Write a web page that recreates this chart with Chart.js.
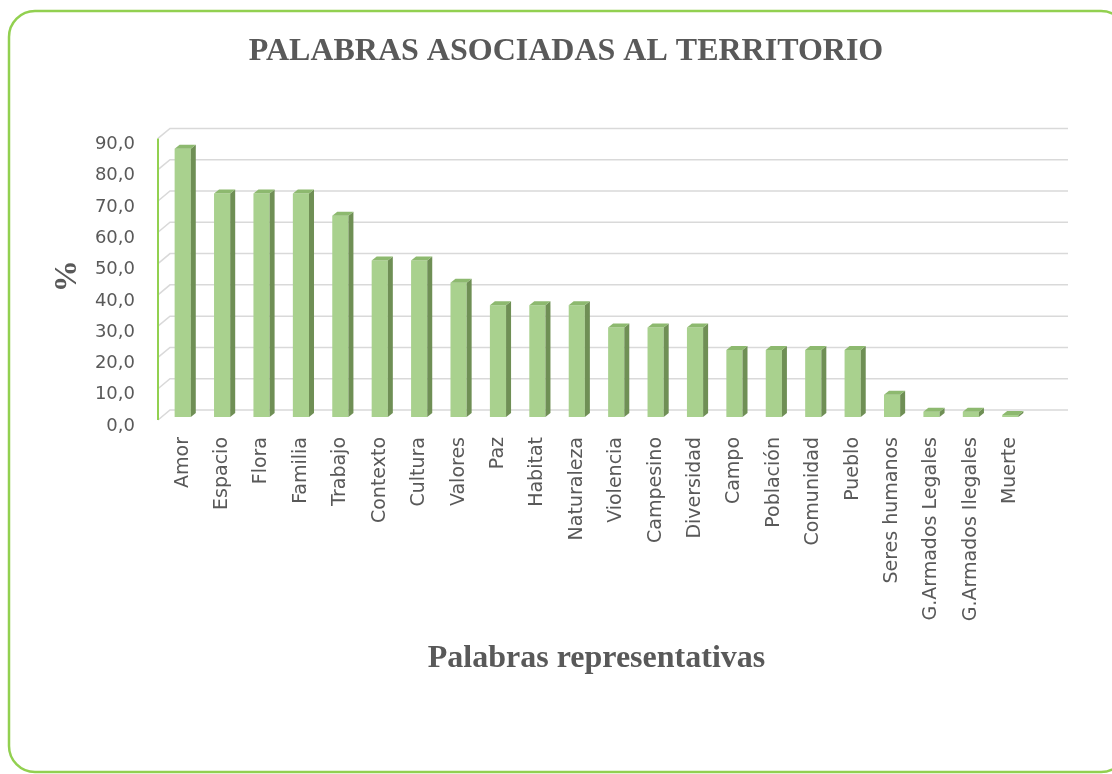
<!DOCTYPE html>
<html>
<head>
<meta charset="utf-8">
<script src="https://cdn.jsdelivr.net/npm/chart.js@4"></script>
<style>
  html, body { margin:0; padding:0; background:#ffffff; }
  #wrap { position:relative; width:1112px; height:774px; }
  canvas { display:block; }
</style>
</head>
<body>
<div id="wrap"><canvas id="c" width="1112" height="774"></canvas></div>
<script>
const chartTitle = 'PALABRAS ASOCIADAS AL TERRITORIO';
const xTitle = 'Palabras representativas';
const yTitle = '%';
const categories = ['Amor','Espacio','Flora','Familia','Trabajo','Contexto','Cultura','Valores','Paz','Habitat','Naturaleza','Violencia','Campesino','Diversidad','Campo','Población','Comunidad','Pueblo','Seres humanos','G.Armados Legales','G.Armados Ilegales','Muerte'];
const values = [85.7,71.4,71.4,71.4,64.3,50.0,50.0,42.9,35.7,35.7,35.7,28.6,28.6,28.6,21.4,21.4,21.4,21.4,7.1,1.7,1.7,0.6];
const yTickLabels = ['0,0','10,0','20,0','30,0','40,0','50,0','60,0','70,0','80,0','90,0'];

const GREEN_BORDER = '#92D050';
const FRONT = '#A9D18E';
const SIDE = '#6F8F55';
const TOP = '#8DB96F';
const GRID = '#D9D9D9';
const TEXT = '#595959';
const serif = '"Liberation Serif", "Times New Roman", serif';
const sans = '"DejaVu Sans", sans-serif';

const frame = {
  id: 'frame',
  beforeDraw(chart) {
    const ctx = chart.ctx;
    ctx.save();
    ctx.fillStyle = '#ffffff';
    ctx.fillRect(0, 0, chart.width, chart.height);
    ctx.strokeStyle = GREEN_BORDER;
    ctx.lineWidth = 2.5;
    ctx.beginPath();
    ctx.roundRect(9, 11, 1118, 761, 26);
    ctx.stroke();
    ctx.restore();
  }
};

const grid3d = {
  id: 'grid3d',
  beforeDatasetsDraw(chart) {
    const ctx = chart.ctx, ys = chart.scales.y, area = chart.chartArea;
    const xFront = area.left - 5, xBack = area.left + 7, xEnd = area.right + 38;
    ctx.save();
    ctx.strokeStyle = GRID;
    ctx.lineWidth = 1.5;
    ys.ticks.forEach(t => {
      const y = ys.getPixelForValue(t.value);
      ctx.beginPath();
      ctx.moveTo(xFront, y + 3);
      ctx.lineTo(xBack, y - 7);
      ctx.lineTo(xEnd, y - 7);
      ctx.stroke();
    });
    ctx.strokeStyle = GREEN_BORDER;
    ctx.lineWidth = 2;
    ctx.beginPath();
    ctx.moveTo(xFront, ys.getPixelForValue(0) + 3);
    ctx.lineTo(xFront, ys.getPixelForValue(90) + 3);
    ctx.stroke();
    ctx.restore();
  }
};

const bars3d = {
  id: 'bars3d',
  afterDatasetsDraw(chart) {
    const ctx = chart.ctx;
    const meta = chart.getDatasetMeta(0);
    const dx = 5, dy = -4;
    ctx.save();
    meta.data.forEach(el => {
      const w = el.width, l = el.x - w / 2, r = el.x + w / 2, t = el.y, b = el.base;
      ctx.fillStyle = SIDE;
      ctx.beginPath();
      ctx.moveTo(r, t); ctx.lineTo(r + dx, t + dy); ctx.lineTo(r + dx, b + dy); ctx.lineTo(r, b);
      ctx.closePath(); ctx.fill();
      ctx.fillStyle = TOP;
      ctx.beginPath();
      ctx.moveTo(l, t); ctx.lineTo(l + dx, t + dy); ctx.lineTo(r + dx, t + dy); ctx.lineTo(r, t);
      ctx.closePath(); ctx.fill();
    });
    ctx.restore();
  }
};

new Chart(document.getElementById('c'), {
  type: 'bar',
  data: {
    labels: categories,
    datasets: [{ data: values, backgroundColor: FRONT, borderWidth: 0, barPercentage: 0.41, categoryPercentage: 1.0 }]
  },
  options: {
    responsive: false,
    animation: false,
    devicePixelRatio: 1,
    layout: { padding: { left: 40, top: 10, right: 20, bottom: 80 } },
    plugins: {
      legend: { display: false },
      tooltip: { enabled: false },
      title: {
        display: true, text: chartTitle, color: TEXT,
        font: { family: serif, size: 32, weight: 'bold' },
        padding: { top: 23, bottom: 64 }
      }
    },
    scales: {
      x: {
        grid: { display: false, drawTicks: false },
        border: { display: false },
        ticks: { color: TEXT, font: { family: sans, size: 19 }, minRotation: 90, maxRotation: 90, autoSkip: false, padding: 20 },
        title: { display: true, text: xTitle, color: TEXT, font: { family: serif, size: 32, weight: 'bold' }, padding: { top: 0, bottom: 16 } },
        afterFit: s => { s.height = 774 - 80 - 417; }
      },
      y: {
        min: 0, max: 90,
        grid: { display: false, drawTicks: false },
        border: { display: false },
        ticks: { stepSize: 10, color: TEXT, font: { family: sans, size: 18 }, padding: 28, labelOffset: 9,
          callback: (v, i) => yTickLabels[i] },
        title: { display: true, text: yTitle, color: TEXT, font: { family: serif, size: 32, weight: 'bold' }, padding: { top: 9, bottom: 0 } },
        afterFit: s => { s.width = 163 - 40; }
      },
      yRight: {
        position: 'right',
        display: true,
        grid: { display: false, drawTicks: false },
        border: { display: false },
        ticks: { display: false },
        afterFit: s => { s.width = 1112 - 20 - 1030; }
      }
    }
  },
  plugins: [frame, grid3d, bars3d]
});
</script>
</body>
</html>
